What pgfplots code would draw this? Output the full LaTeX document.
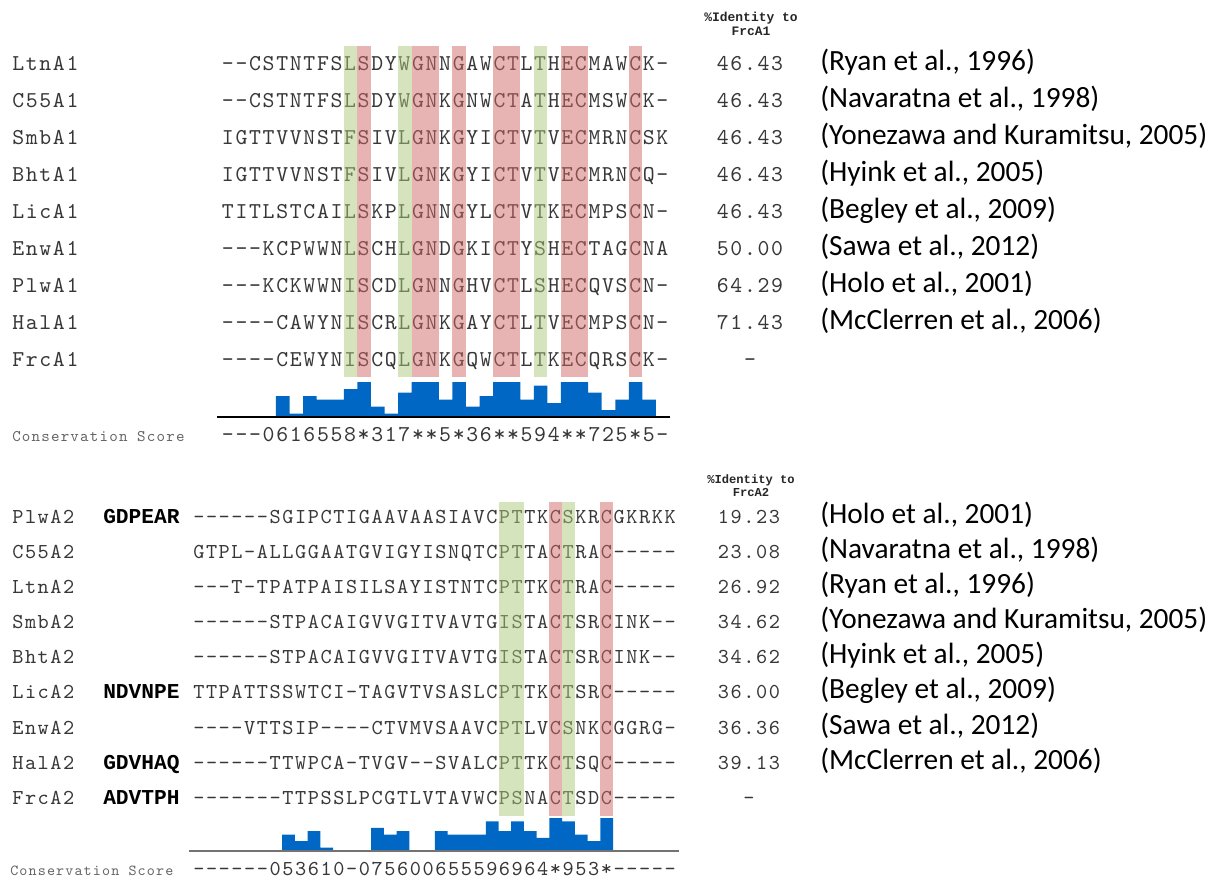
\documentclass[border=0pt]{standalone}
\usepackage{pgfplots}
\pgfplotsset{compat=1.18}
\usepackage{fontspec}
\setmainfont{Liberation Sans}
\setmonofont{Liberation Mono}
\newfontfamily\seqfont{lmmono10-regular.otf}[LetterSpace=7.4]
\newfontfamily\reffont{Carlito}
\definecolor{seqgray}{RGB}{55,55,55}
\definecolor{lblgray}{RGB}{100,100,100}
\definecolor{hlgreen}{RGB}{172,202,122}
\definecolor{hlred}{RGB}{207,104,104}
\definecolor{barblue}{RGB}{0,104,196}

% conservation scores (* = 10, - = 0)
\pgfplotstableread{
col score
0 0
1 0
2 0
3 0
4 6
5 1
6 6
7 5
8 5
9 8
10 10
11 3
12 1
13 7
14 10
15 10
16 5
17 10
18 3
19 6
20 10
21 10
22 5
23 9
24 4
25 10
26 10
27 7
28 2
29 5
30 10
31 5
32 0
33 0
}\consA

\pgfplotstableread{
col score
0 0
1 0
2 0
3 0
4 0
5 0
6 0
7 5
8 3
9 6
10 1
11 0
12 0
13 0
14 7
15 5
16 6
17 0
18 0
19 6
20 5
21 5
22 5
23 9
24 6
25 9
26 6
27 4
28 10
29 9
30 5
31 3
32 10
33 0
34 0
35 0
36 0
37 0
38 0
}\consB

\begin{document}
\begin{tikzpicture}[x=0.75pt,y=-0.75pt]
\useasboundingbox (0,0) rectangle (1221,880);
\tikzset{
  seqA/.style={anchor=mid west, inner sep=0pt, font=\fontsize{17pt}{18pt}\selectfont\seqfont, text=seqgray},
  seqB/.style={anchor=mid west, inner sep=0pt, font=\fontsize{15.95pt}{17pt}\selectfont\seqfont, text=seqgray},
  idA/.style={anchor=mid, inner sep=0pt, font=\fontsize{17pt}{18pt}\selectfont\seqfont, text=seqgray},
  idB/.style={anchor=mid, inner sep=0pt, font=\fontsize{15.95pt}{17pt}\selectfont\seqfont, text=seqgray},
  refS/.style={anchor=mid west, inner sep=0pt, font=\fontsize{22pt}{24pt}\selectfont\reffont, text=black},
  hdrA/.style={anchor=mid, inner sep=0pt, font=\fontsize{9.7pt}{10pt}\selectfont\ttfamily\bfseries, text=black!85},
  hdrB/.style={anchor=mid, inner sep=0pt, font=\fontsize{9.1pt}{10pt}\selectfont\ttfamily\bfseries, text=black!85},
  preB/.style={anchor=mid west, inner sep=0pt, font=\fontsize{15.91pt}{17pt}\selectfont\ttfamily\bfseries, text=black},
}
\newcommand\rowA[5]{%
  \node[seqA] at (12,#1) {#2};
  \node[seqA] at (221.7,#1) {#3};
  \node[idA] at (750,#1) {#4};
  \node[refS] at (820,#1) {#5};
}
\newcommand\rowB[6]{%
  \node[seqB] at (12,#1) {#2};
  \node[preB] at (103,#1) {#3};
  \node[seqB] at (193,#1) {#4};
  \node[idB] at (749,#1) {#5};
  \node[refS] at (820,#1) {#6};
}
% ---------------- top panel ----------------
\node[hdrA] at (751,18) {\%Identity to};
\node[hdrA] at (751,32) {FrcA1};
\rowA{67}{LtnA1}{--CSTNTFSLSDYWGNNGAWCTLTHECMAWCK-}{46.43}{(Ryan et al., 1996)}
\rowA{104}{C55A1}{--CSTNTFSLSDYWGNKGNWCTATHECMSWCK-}{46.43}{(Navaratna et al., 1998)}
\rowA{141}{SmbA1}{IGTTVVNSTFSIVLGNKGYICTVTVECMRNCSK}{46.43}{(Yonezawa and Kuramitsu, 2005)}
\rowA{178}{BhtA1}{IGTTVVNSTFSIVLGNKGYICTVTVECMRNCQ-}{46.43}{(Hyink et al., 2005)}
\rowA{215}{LicA1}{TITLSTCAILSKPLGNNGYLCTVTKECMPSCN-}{46.43}{(Begley et al., 2009)}
\rowA{252}{EnwA1}{---KCPWWNLSCHLGNDGKICTYSHECTAGCNA}{50.00}{(Sawa et al., 2012)}
\rowA{289}{PlwA1}{---KCKWWNISCDLGNNGHVCTLSHECQVSCN-}{64.29}{(Holo et al., 2001)}
\rowA{326}{HalA1}{----CAWYNISCRLGNKGAYCTLTVECMPSCN-}{71.43}{(McClerren et al., 2006)}
\rowA{363}{FrcA1}{----CEWYNISCQLGNKGQWCTLTKECQRSCK-}{-}{}
\foreach \c/\n/\col in {9/1/hlgreen,10/1/hlred,13/1/hlgreen,14/2/hlred,17/1/hlred,20/2/hlred,23/1/hlgreen,25/2/hlred,30/1/hlred}{
  \fill[\col, fill opacity=0.5] ({221.7+\c*13.57},46) rectangle ++({\n*13.57},331);
}
\node[anchor=mid west, inner sep=0pt, font=\fontsize{12.15pt}{13pt}\selectfont\seqfont, text=lblgray] at (12,438) {Conservation Score};
\node[seqA] at (221.7,438) {---0616558*317**5*36**594**725*5-};
\begin{axis}[at={(166.275pt,-312.75pt)}, anchor=south west, scale only axis,
  width=335.9pt, height=26.25pt, xmin=0, xmax=33, ymin=0, ymax=10,
  hide axis, clip=false]
\addplot[ybar interval, fill=barblue, draw=none] table[x=col, y=score] {\consA};
\draw[black, line width=1.1pt] (axis cs:-0.35,0) -- (axis cs:33.05,0);
\end{axis}
% ---------------- bottom panel ----------------
\node[hdrB] at (751,480) {\%Identity to};
\node[hdrB] at (751,493) {FrcA2};
\rowB{520}{PlwA2}{GDPEAR}{------SGIPCTIGAAVAASIAVCPTTKCSKRCGKRKK}{19.23}{(Holo et al., 2001)}
\rowB{555}{C55A2}{}{GTPL-ALLGGAATGVIGYISNQTCPTTACTRAC-----}{23.08}{(Navaratna et al., 1998)}
\rowB{590}{LtnA2}{}{---T-TPATPAISILSAYISTNTCPTTKCTRAC-----}{26.92}{(Ryan et al., 1996)}
\rowB{625}{SmbA2}{}{------STPACAIGVVGITVAVTGISTACTSRCINK--}{34.62}{(Yonezawa and Kuramitsu, 2005)}
\rowB{660}{BhtA2}{}{------STPACAIGVVGITVAVTGISTACTSRCINK--}{34.62}{(Hyink et al., 2005)}
\rowB{695}{LicA2}{NDVNPE}{TTPATTSSWTCI-TAGVTVSASLCPTTKCTSRC-----}{36.00}{(Begley et al., 2009)}
\rowB{731}{EnwA2}{}{----VTTSIP----CTVMVSAAVCPTLVCSNKCGGRG-}{36.36}{(Sawa et al., 2012)}
\rowB{766}{HalA2}{GDVHAQ}{------TTWPCA-TVGV--SVALCPTTKCTSQC-----}{39.13}{(McClerren et al., 2006)}
\rowB{801}{FrcA2}{ADVTPH}{-------TTPSSLPCGTLVTAVWCPSNACTSDC-----}{-}{}
\foreach \c/\n/\col in {24/2/hlgreen,28/1/hlred,29/1/hlgreen,32/1/hlred}{
  \fill[\col, fill opacity=0.5] ({193+\c*12.73},502) rectangle ++({\n*12.73},314);
}
\node[anchor=mid west, inner sep=0pt, font=\fontsize{11.5pt}{12pt}\selectfont\seqfont, text=lblgray] at (10,872) {Conservation Score};
\node[seqB] at (193,872) {------053610-075600655596964*953*-----};
\begin{axis}[at={(144.75pt,-638.25pt)}, anchor=south west, scale only axis,
  width=362.8pt, height=24.75pt, xmin=0, xmax=38, ymin=0, ymax=10,
  hide axis, clip=false]
\addplot[ybar interval, fill=barblue, draw=none] table[x=col, y=score] {\consB};
\draw[black!55, line width=1.6pt] (axis cs:-0.3,0) -- (axis cs:38.2,0);
\end{axis}
\end{tikzpicture}
\end{document}
